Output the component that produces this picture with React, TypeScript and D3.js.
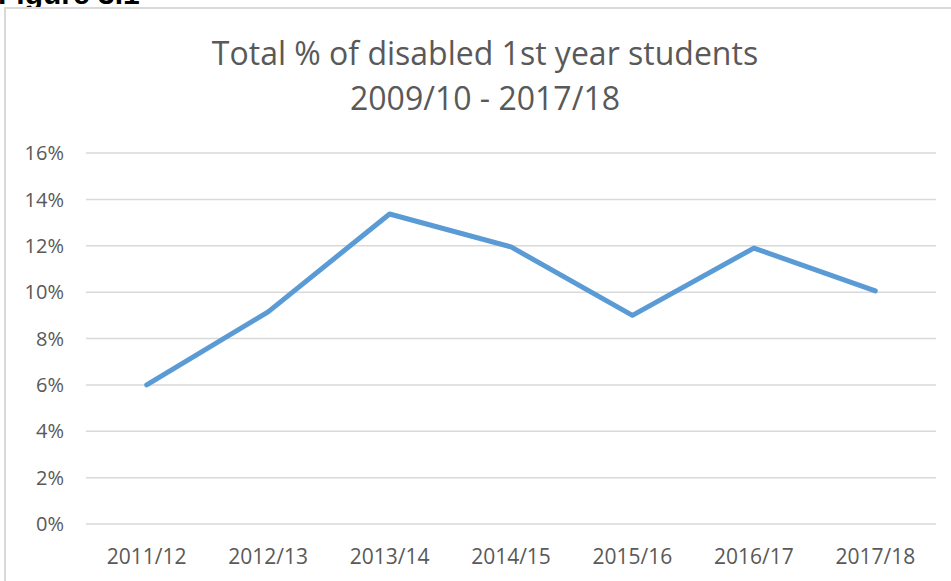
import React from "react";
import * as d3 from "d3";

const categories = ["2011/12", "2012/13", "2013/14", "2014/15", "2015/16", "2016/17", "2017/18"];
const values = [6.0, 9.15, 13.37, 11.95, 9.0, 11.9, 10.05];
const yTicks = [0, 2, 4, 6, 8, 10, 12, 14, 16];
const titleLines = ["Total % of disabled 1st year students", "2009/10 - 2017/18"];
const figureLabel = "Figure 3.1";

const W = 951;
const H = 581;
const plot = { left: 86, right: 936, top: 153, bottom: 524 };
const FONT = "'Open Sans', 'DejaVu Sans', sans-serif";
const GREY = "#595959";

export default function App() {
  const x = d3.scaleBand<string>().domain(categories).range([plot.left, plot.right]);
  const y = d3.scaleLinear().domain([0, 16]).range([plot.bottom, plot.top]);
  const line = d3
    .line<number>()
    .x((_, i) => (x(categories[i]) as number) + x.bandwidth() / 2)
    .y((d) => y(d));

  return (
    <svg
      width={W}
      height={H}
      style={{ position: "absolute", left: 0, top: 0, background: "#fff" }}
    >
      <rect x={0} y={0} width={W} height={H} fill="#fff" />
      <text x={-2} y={4} fontFamily="'Liberation Sans', Arial, sans-serif" fontWeight="bold" fontSize={30} fill="#000">
        {figureLabel}
      </text>
      <rect x={5} y={8} width={W + 20} height={H + 20} fill="#fff" stroke="#d9d9d9" strokeWidth={2} />
      {titleLines.map((t, i) => (
        <text
          key={t}
          x={485}
          y={65 + i * 45}
          textAnchor="middle"
          fontFamily={FONT}
          fontSize={32}
          fill={GREY}
        >
          {t}
        </text>
      ))}
      {yTicks.map((t) => (
        <g key={t}>
          <line x1={plot.left} x2={plot.right} y1={y(t)} y2={y(t)} stroke="#d9d9d9" strokeWidth={1.5} />
          <text
            x={64}
            y={y(t)}
            dy="0.36em"
            textAnchor="end"
            fontFamily={FONT}
            fontSize={20}
            fill={GREY}
          >
            {t}%
          </text>
        </g>
      ))}
      {categories.map((c) => (
        <text
          key={c}
          x={(x(c) as number) + x.bandwidth() / 2}
          y={564}
          textAnchor="middle"
          fontFamily={FONT}
          fontSize={21}
          fill={GREY}
        >
          {c}
        </text>
      ))}
      <path
        d={line(values) || ""}
        fill="none"
        stroke="#5b9bd5"
        strokeWidth={5}
        strokeLinejoin="round"
        strokeLinecap="round"
      />
    </svg>
  );
}
